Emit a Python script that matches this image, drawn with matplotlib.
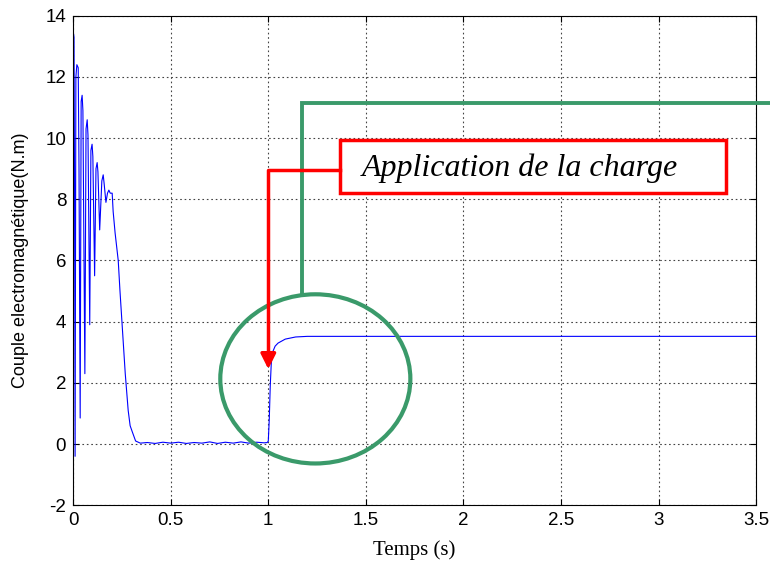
import matplotlib.pyplot as plt
from matplotlib.patches import Ellipse, Rectangle

plt.rcParams['axes.unicode_minus'] = False

t_demarrage = [0.0, 0.002, 0.004, 0.007, 0.010, 0.014, 0.019, 0.026, 0.030, 0.036,
               0.041, 0.046, 0.050, 0.060, 0.066, 0.072, 0.076, 0.085, 0.091, 0.097,
               0.101, 0.110, 0.117, 0.123, 0.127, 0.136, 0.147, 0.154, 0.159, 0.168,
               0.176, 0.183, 0.190, 0.200, 0.205, 0.215, 0.231, 0.240, 0.251, 0.267,
               0.282, 0.292, 0.303, 0.320, 0.344]
c_demarrage = [0.0, 13.4, 13.3, 8.8, -0.4, 12.0, 12.4, 12.3, 9.0, 0.85,
               11.2, 11.4, 10.9, 2.3, 10.3, 10.6, 10.1, 3.9, 9.6, 9.8,
               9.4, 5.5, 9.0, 9.2, 8.9, 7.0, 8.6, 8.8, 8.5, 7.9,
               8.2, 8.3, 8.2, 8.2, 7.6, 6.9, 6.0, 5.0, 3.9, 2.3,
               1.1, 0.6, 0.4, 0.1, 0.03]

# Régime à vide (ondulations résiduelles)
t_vide = [0.38, 0.42, 0.46, 0.50, 0.54, 0.58, 0.62, 0.66, 0.70, 0.74,
          0.78, 0.82, 0.86, 0.90, 0.94, 0.98, 0.995]
c_vide = [0.05, 0.02, 0.06, 0.03, 0.06, 0.02, 0.05, 0.03, 0.07, 0.02,
          0.06, 0.03, 0.07, 0.03, 0.06, 0.04, 0.05]

# Application de la charge à t = 1 s
t_charge = [1.000, 1.005, 1.010, 1.015, 1.020, 1.035, 1.050, 1.087, 1.140, 1.20, 3.5]
c_charge = [0.1, 0.8, 1.9, 2.6, 2.97, 3.2, 3.3, 3.43, 3.5, 3.52, 3.52]

temps = t_demarrage + t_vide + t_charge
couple = c_demarrage + c_vide + c_charge

xticks = [0, 0.5, 1, 1.5, 2, 2.5, 3, 3.5]
xticklabels = ['0', '0.5', '1', '1.5', '2', '2.5', '3', '3.5']
yticks = [-2, 0, 2, 4, 6, 8, 10, 12, 14]

fig = plt.figure(figsize=(7.7, 5.62), dpi=100)
ax = fig.add_axes([0.095, 0.101, 0.887, 0.871])

ax.plot(temps, couple, color='blue', linewidth=0.8)

ax.set_xlim(0, 3.5)
ax.set_ylim(-2, 14)
ax.set_xticks(xticks)
ax.set_xticklabels(xticklabels)
ax.set_yticks(yticks)
ax.tick_params(direction='in', top=True, right=True, length=4, labelsize=13.5, pad=5)
for lab in ax.get_xticklabels() + ax.get_yticklabels():
    lab.set_family('Liberation Sans')
ax.grid(True, color='#444444', linestyle=(0, (1.5, 2.5)), linewidth=0.8)

ax.set_xlabel('Temps (s)', family='Liberation Serif', fontsize=15, labelpad=8)
ax.set_ylabel('Couple electromagnétique(N.m)', family='Liberation Sans', fontsize=13, labelpad=12)

vert = '#3a9a6a'
rouge = '#ff0000'

# Cercle autour du régime transitoire de charge
ax.add_patch(Ellipse((1.241, 2.13), 0.974, 5.53, fill=False, edgecolor=vert,
                     linewidth=3, zorder=4))
ax.plot([1.174, 1.174, 3.574], [4.91, 11.16, 11.16], color=vert, linewidth=2.8,
        clip_on=False, zorder=4, solid_joinstyle='miter')

# Encadré et flèche rouges
ax.add_patch(Rectangle((1.369, 8.22), 1.975, 1.73, fill=True, facecolor='white',
                       edgecolor=rouge, linewidth=2.5, zorder=5))
ax.text(2.29, 9.0, 'Application de la charge', family='Liberation Serif',
        style='italic', fontsize=23, ha='center', va='center', zorder=6)
ax.plot([1.369, 1.0, 1.0], [8.97, 8.97, 2.9], color=rouge, linewidth=2.5, zorder=5)
ax.annotate('', xy=(1.0, 2.45), xytext=(1.0, 3.0),
            arrowprops=dict(arrowstyle='-|>,head_length=0.9,head_width=0.45',
                            color=rouge, linewidth=2.5, shrinkA=0, shrinkB=0),
            zorder=5)

fig.savefig('out.png', dpi=100)
